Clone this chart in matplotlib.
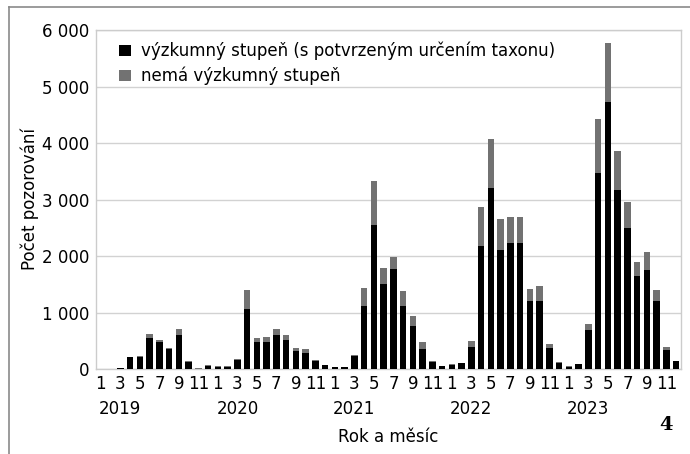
"""Monthly observations 2019-2023, stacked by research grade."""

import matplotlib
matplotlib.use("Agg")
import matplotlib.pyplot as plt
from matplotlib.lines import Line2D

plt.rcParams["font.family"] = ["DejaVu Sans"]

years = ["2019", "2020", "2021", "2022", "2023"]
month_labels = ["1", "", "3", "", "5", "", "7", "", "9", "", "11", ""]

# total observations per month and the research-grade part of them
total = [
    0, 0, 25, 220, 225, 620, 505, 365, 700, 135, 12, 70,
    45, 45, 180, 1390, 540, 560, 705, 595, 365, 360, 165, 75,
    40, 40, 250, 1430, 3330, 1785, 1990, 1375, 930, 470, 135, 55,
    85, 110, 500, 2875, 4075, 2650, 2695, 2685, 1410, 1475, 440, 124,
    45, 88, 800, 4430, 5770, 3860, 2960, 1890, 2065, 1400, 382, 140,
]
research = [
    0, 0, 10, 205, 205, 555, 485, 350, 600, 120, 5, 55,
    35, 35, 165, 1070, 470, 470, 610, 510, 310, 290, 150, 65,
    32, 32, 225, 1120, 2550, 1500, 1770, 1120, 765, 355, 118, 48,
    75, 100, 390, 2185, 3200, 2105, 2235, 2225, 1195, 1195, 370, 112,
    40, 80, 695, 3475, 4725, 3175, 2500, 1645, 1755, 1210, 340, 135,
]
other = [t - r for t, r in zip(total, research)]

y_ticks = [0, 1000, 2000, 3000, 4000, 5000, 6000]
y_labels = ["0", "1 000", "2 000", "3 000", "4 000", "5 000", "6 000"]

FS = 12
fig = plt.figure(figsize=(6.9, 4.54), dpi=100)
ax = fig.add_axes([96 / 690, 1 - 369 / 454, 585 / 690, 339 / 454])

x = list(range(len(total)))
ax.bar(x, research, width=0.65, color="#000000", zorder=3,
       label="výzkumný stupeň (s potvrzeným určením taxonu)")
ax.bar(x, other, bottom=research, width=0.65, color="#727272", zorder=3,
       label="nemá výzkumný stupeň")

ax.set_xlim(-0.5, len(total) - 0.5)
ax.set_ylim(0, 6000)
ax.set_yticks(y_ticks)
ax.set_yticklabels(y_labels, fontsize=FS)
ax.set_xticks(x)
ax.set_xticklabels(month_labels * len(years), fontsize=FS)
ax.tick_params(axis="y", length=0, pad=5)
ax.tick_params(axis="x", length=0, pad=4)
ax.grid(axis="y", color="#d2d2d2", linewidth=1, zorder=0)
for s in ax.spines.values():
    s.set_color("#cccccc")
    s.set_linewidth(1)

# year labels under the month numbers
for i, yr in enumerate(years):
    ax.annotate(yr, xy=(i * 12 + 2, 0), xycoords=("data", "axes fraction"),
                xytext=(0, -40), textcoords="offset pixels",
                ha="center", va="center", fontsize=FS)

ax.set_ylabel("Počet pozorování", fontsize=FS, labelpad=2)
fig.text(388 / 690, 1 - 437 / 454, "Rok a měsíc", ha="center", va="center",
         fontsize=FS)
fig.text(666 / 690, 1 - 425 / 454, "4", ha="center", va="center",
         fontsize=14, fontweight="bold", family="DejaVu Serif")

ax.legend(loc="upper left", bbox_to_anchor=(0.02, 1.0), frameon=False,
          fontsize=FS, handlelength=0.7, handleheight=0.6,
          handletextpad=0.6, labelspacing=0.4, borderaxespad=0.3)

# partial frame around the figure (top and left)
fig.add_artist(Line2D([9 / 690, 1], [1 - 7 / 454] * 2, transform=fig.transFigure,
                      color="#8a8a8a", linewidth=1.2))
fig.add_artist(Line2D([9 / 690] * 2, [0, 1 - 7 / 454], transform=fig.transFigure,
                      color="#8a8a8a", linewidth=1.2))

fig.savefig("out.png", dpi=100)
